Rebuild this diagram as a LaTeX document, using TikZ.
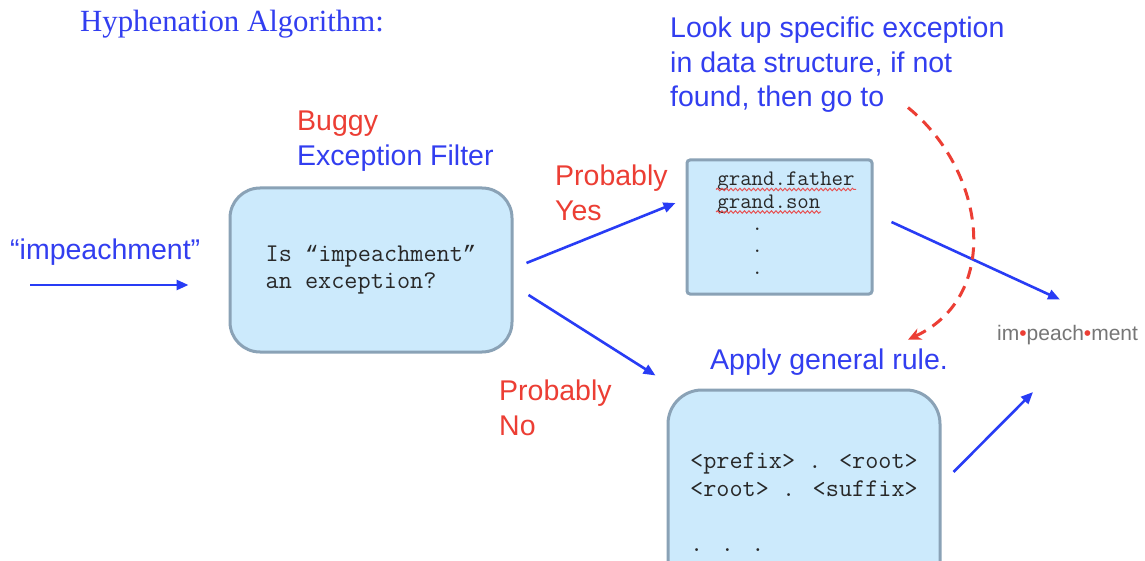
\documentclass[tikz,border=0pt]{standalone}
\usepackage{fontspec}
\setmainfont{Liberation Sans}
\newfontfamily\titlefont{Liberation Serif}
\newfontfamily\quotemono{Liberation Mono}
\usetikzlibrary{arrows.meta,decorations.pathmorphing,calc}

\definecolor{inkblue}{RGB}{50,62,240}
\definecolor{inkred}{RGB}{236,62,52}
\definecolor{arrowblue}{RGB}{40,60,245}
\definecolor{boxfill}{RGB}{204,234,252}
\definecolor{boxline}{RGB}{138,162,182}
\definecolor{wordgray}{RGB}{118,118,118}
\definecolor{spellred}{RGB}{232,80,80}
\definecolor{codeink}{RGB}{40,40,40}

% curly quotes for the typewriter lines, same advance width as the code font
\newcommand{\cq}[1]{{\quotemono\fontsize{22.3}{27.5}\selectfont #1}}

\begin{document}
\begin{tikzpicture}[x=1pt,y=-1pt,
  label28/.style={font=\fontsize{28.5}{34.3}\selectfont, inner sep=0, align=left},
  codefont/.style={font=\fontsize{25.5}{27.5}\selectfont\ttfamily, text=codeink},
  roundbox/.style={draw=boxline, fill=boxfill, line width=3, rounded corners=30},
  listbox/.style={draw=boxline, fill=boxfill, line width=3, rounded corners=3},
  flow/.style={arrowblue, line width=2.6, -{Triangle[length=12,width=10]}},
  jump/.style={inkred, line width=3, dash pattern=on 12 off 8, -{Stealth[length=13,width=12]}},
  spell/.style={spellred, line width=1, decorate, decoration={snake, amplitude=1.2, segment length=4.5}}
]
\path[use as bounding box, clip] (0,0) rectangle (1145,561);
\fill[white] (0,0) rectangle (1145,561);

% heading
\node[anchor=base west, inner sep=0, text=inkblue,
      font=\titlefont\fontsize{30.8}{36}\selectfont] (title) at (80,32) {Hyphenation Algorithm:};

% input word
\node[anchor=base west, label28, text=inkblue] (word) at (10,259.5) {“impeachment”};

% exception filter
\node[roundbox, minimum width=282, minimum height=164, codefont, align=left] (box1) at (371,270)
  {Is \cq{“}impeachment\cq{”}\\an exception?};
\node[anchor=north west, label28] (filter) at (297,111)
  {\textcolor{inkred}{Buggy}\\\textcolor{inkblue}{Exception Filter}};

% exception list
\node[listbox, minimum width=185, minimum height=134] (box2) at (779.5,227) {};
\node[font=\fontsize{22.2}{22.3}\selectfont\ttfamily, text=codeink, align=left, inner sep=0] (ex) at (786,223.5)
  {grand.father\\grand.son\\\hphantom{gra}.\\\hphantom{gra}.\\\hphantom{gra}.};
\draw[spell] (716,189.5) -- (856,189.5);
\draw[spell] (716,212) -- (821,212);

\node[anchor=north west, label28, text=inkblue] (lookup) at (670,17)
  {Look up specific exception\\in data structure, if not\\found, then go to};

% general rule
\node[roundbox, rounded corners=34, minimum width=272, minimum height=224, codefont, align=left] (box3) at (804,502)
  {<prefix> . <root>\\<root> . <suffix>\\[27.5pt]. . .};
\node[anchor=base west, label28, text=inkblue] (apply) at (710,369.5) {Apply general rule.};

% branch labels
\node[anchor=north west, label28, text=inkred] (yes) at (555,165) {Probably\\Yes};
\node[anchor=north west, label28, text=inkred] (no) at (499,380) {Probably\\No};

% result
\node[anchor=base west, inner sep=0, text=wordgray, font=\fontsize{21}{25}\selectfont] (result) at (997,340.5)
  {im\textcolor{inkred}{•}peach\textcolor{inkred}{•}ment};

% connectors
\coordinate (in0) at (30,285);
\draw[flow] (in0) -- ($(box1.west)+(-40,15)$);
\draw[flow] ($(box1.east)+(13,-7)$) -- ($(box2.west)+(-10,-24)$);
\draw[flow] ($(box1.east)+(15,25)$) -- ($(box3.north west)+(-11,-13)$);
\draw[flow] ($(box2.east)+(18,-5)$) -- ($(result.north west)+(63,-25.5)$);
\draw[flow] ($(box3.east)+(12,-30)$) -- ($(result.south west)+(36,47)$);
\draw[jump] ($(lookup.south west)+(238,-5)$) .. controls (985,170) and (1003,295) .. ($(apply.north east)+(-40,-9)$);
\end{tikzpicture}
\end{document}
